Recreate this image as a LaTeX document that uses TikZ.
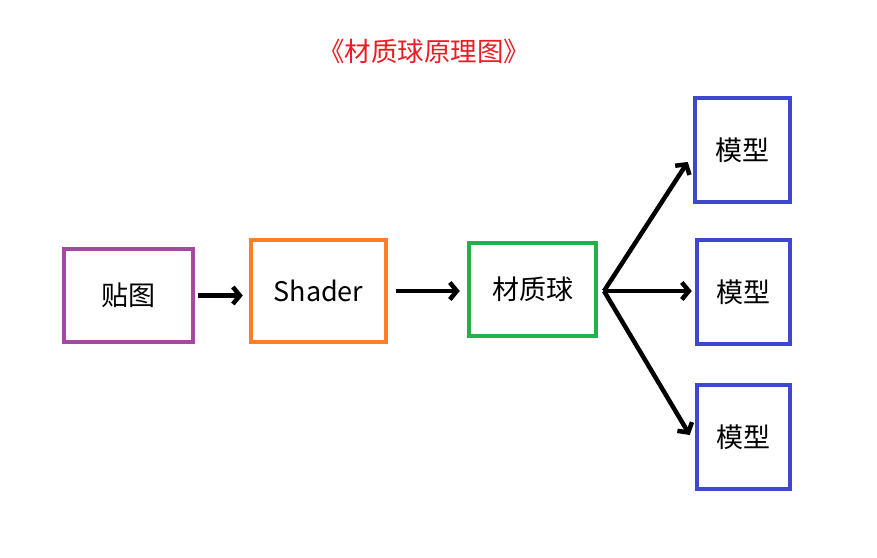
\documentclass[tikz,border=0pt]{standalone}
\usepackage{fontspec}
\setmainfont{Noto Sans CJK SC}
\usetikzlibrary{arrows.meta}
\definecolor{texpurple}{RGB}{163,73,164}
\definecolor{shaderorange}{RGB}{255,127,39}
\definecolor{matgreen}{RGB}{34,177,76}
\definecolor{modelblue}{RGB}{63,72,204}
\definecolor{titlered}{RGB}{237,28,36}
\tikzset{
    box/.style={draw,line width=4.5pt,inner sep=0pt,font=\fontsize{27}{32}\selectfont},
    flow/.style={line width=4.5pt,-{Straight Barb[length=7pt,width=17pt]}}
}
\begin{document}
\begin{tikzpicture}[x=1pt,y=-1pt]
        \useasboundingbox (0,0) rectangle (877,557);
        %% title
        \node[text=titlered,font=\fontsize{26.5}{30}\selectfont] (title) at (424,51) {《材质球原理图》};
        %% chain
        \node[box,texpurple,text=black,minimum width=129pt,minimum height=93pt] (tex) at (128.5,295.5) {贴图};
        \node[box,shaderorange,text=black,minimum width=135pt,minimum height=102pt] (shader) at (318.5,291) {Shader};
        \node[box,matgreen,text=black,minimum width=127pt,minimum height=93pt] (mat) at (532.5,289.5) {材质球};
        %% models
        \node[box,modelblue,text=black,minimum width=95pt,minimum height=104pt] (m1) at (742.5,150) {模型};
        \node[box,modelblue,text=black,minimum width=93pt,minimum height=104pt] (m2) at (743.5,292) {模型};
        \node[box,modelblue,text=black,minimum width=93pt,minimum height=104pt] (m3) at (743.5,437) {模型};
        %% arrows
        \draw[flow,shorten <=3pt,shorten >=6pt] (tex.east) -- (tex.east -| shader.west);
        \draw[flow,shorten <=8pt,shorten >=7pt] (shader.east) -- (shader.east -| mat.west);
        \coordinate (fan) at (604,291);
        \draw[flow] (fan) -- ([shift={(-5,12)}]m1.west);
        \draw[flow] (fan) -- ([shift={(-3,-1)}]m2.west);
        \draw[flow] (fan) -- ([shift={(-5,-2)}]m3.west);
    \end{tikzpicture}
\end{document}
